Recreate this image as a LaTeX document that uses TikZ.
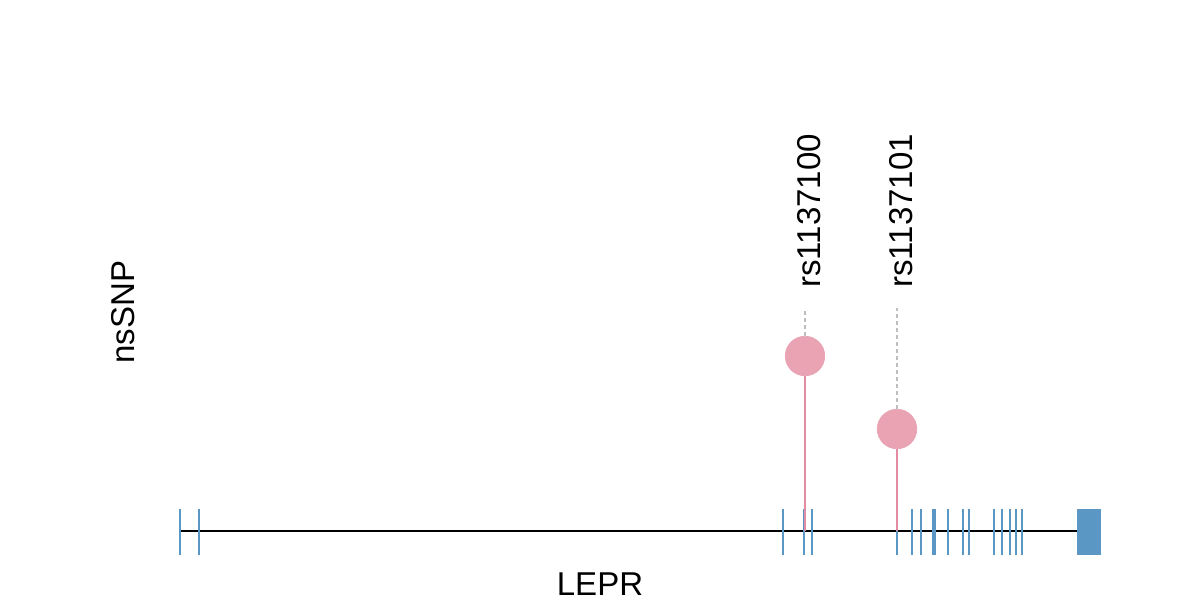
\documentclass[tikz,border=0pt]{standalone}
\usepackage{fontspec}
\setmainfont{Liberation Sans}
\usepackage{tikz}
\usetikzlibrary{
  positioning,
  calc
}
\definecolor{exon}{RGB}{91,151,196}
\definecolor{snp}{RGB}{233,163,178}
\definecolor{snpline}{RGB}{226,140,163}
\definecolor{guide}{RGB}{190,190,190}

\begin{document}
\begin{tikzpicture}[
  x=0.02cm, y=0.02cm,
  every node/.style={font=\fontsize{18.8}{22}\selectfont},
  exontick/.style={draw=exon, line width=1.2pt},
  snpdot/.style={circle, fill=snp, draw=snpline!80, line width=0.4pt,
                 minimum size=0.79cm, inner sep=0pt},
  stick/.style={draw=snpline, line width=1.1pt},
  guideline/.style={draw=guide, line width=0.6pt, dash pattern=on 2pt off 2pt},
  snplabel/.style={rotate=90, anchor=base west, inner sep=0pt}
]
\useasboundingbox (0,0) rectangle (1200,600);

% gene backbone
\coordinate (start) at (180,69);
\coordinate (stop) at (1077,69);
\draw[line width=1.1pt] (start) -- (stop);

% exons
\foreach \x in {180,199,783,804,812,897,912,921,933,935,948,963,969,994,1002,1010,1016,1022}
  \draw[exontick] (\x,45) -- (\x,91);
\fill[exon] (1077,45) rectangle (1101,91);

% variants
\coordinate (base1) at (805,69);
\coordinate (base2) at (897,69);
\node[snpdot] (dot1) at (805,244) {};
\node[snpdot] (dot2) at (897,171) {};
\draw[stick] (base1) -- (dot1);
\draw[stick] (base2) -- (dot2);

\node[snplabel] (lab1) at (820,312) {rs1137100};
\node[snplabel] (lab2) at (912,312) {rs1137101};
\coordinate (top1) at (805,290);
\coordinate (top2) at (897,292);
\draw[guideline] (dot1) -- (top1);
\draw[guideline] (dot2) -- (top2);

% axis labels
\node[rotate=90, anchor=base] (track) at (134,288) {nsSNP};
\node (gene) at (600,16) {LEPR};

\end{tikzpicture}
\end{document}
